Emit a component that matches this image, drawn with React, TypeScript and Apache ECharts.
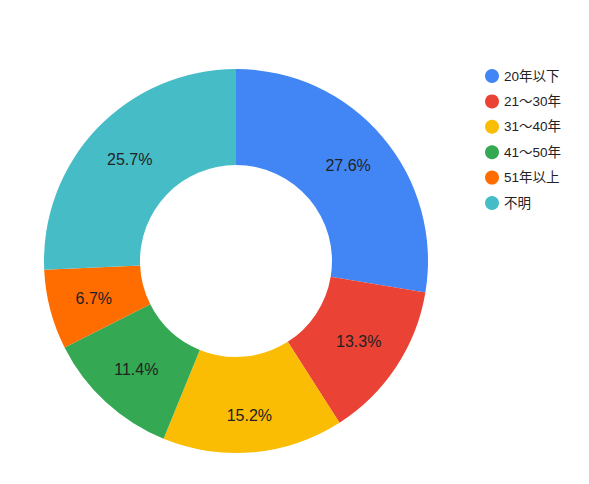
import React, { useEffect, useRef } from "react";
import * as echarts from "echarts";

const categories = ["20年以下", "21〜30年", "31〜40年", "41〜50年", "51年以上", "不明"];
const values = [27.6, 13.3, 15.2, 11.4, 6.7, 25.7];
const colors = ["#4285f4", "#ea4335", "#fbbc04", "#34a853", "#ff6d01", "#46bdc6"];

export default function App() {
  const ref = useRef<HTMLDivElement>(null);
  useEffect(() => {
    if (!ref.current) return;
    const chart = echarts.init(ref.current, undefined, { renderer: "svg" });
    chart.setOption({
      animation: false,
      backgroundColor: "#ffffff",
      color: colors,
      legend: {
        orient: "vertical",
        left: 480,
        top: 64,
        icon: "circle",
        itemWidth: 14,
        itemHeight: 14,
        itemGap: 11.4,
        textStyle: { fontSize: 13.5, color: "#222222", fontFamily: "Arial, Liberation Sans, Noto Sans CJK JP" },
        data: categories,
      },
      series: [
        {
          type: "pie",
          center: [236, 261],
          radius: [96, 192],
          startAngle: 90,
          clockwise: true,
          avoidLabelOverlap: false,
          label: {
            show: true,
            position: "inside",
            formatter: (p: any) => p.value.toFixed(1) + "%",
            fontSize: 16,
            color: "#222222",
            fontFamily: "Arial, Liberation Sans",
          },
          labelLine: { show: false },
          itemStyle: { borderColor: "#ffffff", borderWidth: 0 },
          emphasis: { disabled: true },
          data: categories.map((name, i) =>
            i === 2
              ? { name, value: values[i], label: { offset: [0, 8] } }
              : { name, value: values[i] }
          ),
        },
      ],
    });
    return () => chart.dispose();
  }, []);
  return (
    <div
      ref={ref}
      style={{ position: "fixed", left: 0, top: 0, width: 589, height: 484 }}
    />
  );
}
